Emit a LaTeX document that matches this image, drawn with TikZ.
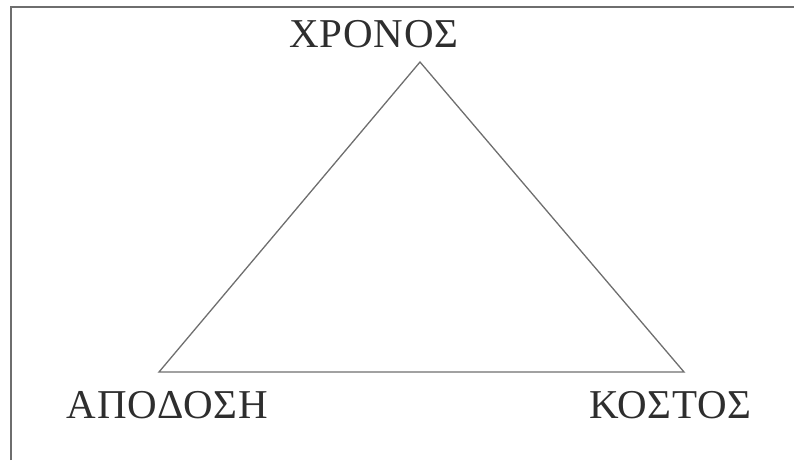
\documentclass[tikz,border=0pt]{standalone}
\usepackage{fontspec}
\setmainfont{Liberation Serif}[LetterSpace=2]
\usepackage{xcolor}
\definecolor{linegray}{HTML}{6E6E6E}
\definecolor{textgray}{HTML}{2E2E2E}

\begin{document}
\begin{tikzpicture}[x=1pt,y=-1pt,
		edge/.style={draw=linegray, line width=1.3pt},
		frameline/.style={draw=linegray, line width=2pt},
		label/.style={text=textgray, font=\fontsize{41}{41}\selectfont, inner sep=0pt}]
		
		% page size
		\useasboundingbox (0,0) rectangle (794,460);
		
		% frame (top and left only)
		\coordinate (framebl) at (10.5,460);
		\coordinate (frametl) at (10.5,7);
		\coordinate (frametr) at (794,7);
		\draw[frameline] (framebl) -- (frametl) -- (frametr);
		
		% corners of the triangle
		\coordinate (apex) at (420,62);
		\coordinate (leftc) at (159,372);
		\coordinate (rightc) at (684,372);
		\draw[edge, line join=miter] (apex) -- (rightc) -- (leftc) -- cycle;
		
		% labels
		\node[label, anchor=base] (time) at (374,48) {ΧΡΟΝΟΣ};
		\node[label, anchor=base] (perf) at (167.5,418) {ΑΠΟΔΟΣΗ};
		\node[label, anchor=base] (cost) at (670.5,418) {ΚΟΣΤΟΣ};
		
	\end{tikzpicture}
\end{document}
